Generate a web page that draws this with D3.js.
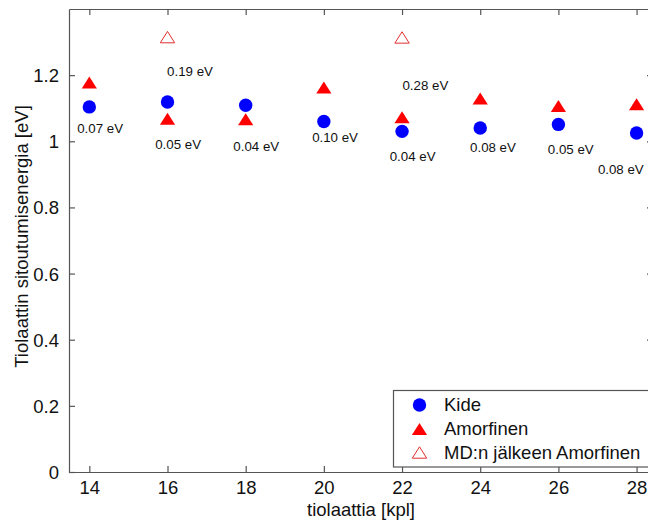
<!DOCTYPE html>
<html>
<head>
<meta charset="utf-8">
<script src="https://cdn.jsdelivr.net/npm/d3@7"></script>
<style>
  body { margin: 0; background: #fff; }
  text { font-family: "Liberation Sans", Arial, sans-serif; fill: #111; }
</style>
</head>
<body>
<div id="chart"></div>
<script>
const tiolaattia = [14, 16, 18, 20, 22, 24, 26, 28];
const kide = [1.104, 1.119, 1.109, 1.060, 1.030, 1.040, 1.051, 1.025];
const amorfinen = [1.178, 1.068, 1.067, 1.163, 1.073, 1.129, 1.107, 1.112];
const mdX = [16, 22];
const mdAmorfinen = [1.315, 1.314];
const labelTexts = ['0.07 eV', '0.19 eV', '0.05 eV', '0.04 eV', '0.10 eV', '0.04 eV', '0.28 eV', '0.08 eV', '0.05 eV', '0.08 eV'];
const labelX = [13.69, 15.99, 15.685, 17.685, 19.70, 21.685, 22.01, 23.74, 25.73, 27.01];
const labelY = [1.039, 1.212, 0.991, 0.986, 1.011, 0.953, 1.169, 0.983, 0.976, 0.915];
const xTicks = [14, 16, 18, 20, 22, 24, 26, 28];
const yTicks = [0, 0.2, 0.4, 0.6, 0.8, 1, 1.2];
const legendNames = ['Kide', 'Amorfinen', "MD:n jälkeen Amorfinen"];

let W = 648, H = 522;
let mLeft = 69, mRight = 653, mTop = 9, mBottom = 472;
let axisColor = '#555';

let svg = d3.select('#chart').append('svg')
    .attr('width', W)
    .attr('height', H);

let x = d3.scaleLinear().domain([13.48, 28.42]).range([mLeft, mRight]);
let y = d3.scaleLinear().domain([0, 1.4]).range([mBottom, mTop]);

// triangle centred on its bounding box, like the matlab marker
function tri(hw, hh) {
    return 'M0,' + (-hh) + 'L' + hw + ',' + hh + 'L' + (-hw) + ',' + hh + 'Z';
}

// axes: bottom/left with labels, top/right just inward ticks
let gx = svg.append('g').attr('transform', 'translate(0,' + mBottom + ')')
    .call(d3.axisBottom(x).tickValues(xTicks).tickSizeInner(-6).tickSizeOuter(0).tickPadding(9).tickFormat(d3.format('d')));
let gy = svg.append('g').attr('transform', 'translate(' + mLeft + ',0)')
    .call(d3.axisLeft(y).tickValues(yTicks).tickSizeInner(-6).tickSizeOuter(0).tickPadding(10).tickFormat(d => d === 0 || d === 1 ? String(d) : d.toFixed(1)));
let gt = svg.append('g').attr('transform', 'translate(0,' + mTop + ')')
    .call(d3.axisTop(x).tickValues(xTicks).tickSizeInner(-6).tickSizeOuter(0).tickFormat(''));
let gr = svg.append('g').attr('transform', 'translate(' + mRight + ',0)')
    .call(d3.axisRight(y).tickValues(yTicks).tickSizeInner(-6).tickSizeOuter(0).tickFormat(''));

[gx, gy, gt, gr].forEach(g => {
    g.select('.domain').attr('stroke', axisColor).attr('stroke-width', 1.2);
    g.selectAll('.tick line').attr('stroke', axisColor).attr('stroke-width', 1.2);
    g.selectAll('.tick text').style('font-size', '18.5px').attr('fill', '#111');
});
gx.selectAll('.tick text').attr('dy', '0.71em');
gy.selectAll('.tick text').attr('dy', '0.35em');

// series
svg.selectAll('.kide')
    .data(tiolaattia)
    .enter().append('circle')
    .attr('class', 'kide')
    .attr('cx', d => x(d))
    .attr('cy', (d, i) => y(kide[i]))
    .attr('r', 6.7)
    .attr('fill', '#0000ff');

svg.selectAll('.amorf')
    .data(tiolaattia)
    .enter().append('path')
    .attr('class', 'amorf')
    .attr('d', tri(7.6, 6))
    .attr('transform', (d, i) => 'translate(' + x(d) + ',' + y(amorfinen[i]) + ')')
    .attr('fill', '#ff0000');

svg.selectAll('.md')
    .data(mdX)
    .enter().append('path')
    .attr('class', 'md')
    .attr('d', tri(7.2, 5.7))
    .attr('transform', (d, i) => 'translate(' + x(d) + ',' + y(mdAmorfinen[i]) + ')')
    .attr('fill', 'none')
    .attr('stroke', '#e03030')
    .attr('stroke-width', 1);

// energy difference annotations
svg.selectAll('.ann')
    .data(labelTexts)
    .enter().append('text')
    .attr('class', 'ann')
    .attr('x', (d, i) => x(labelX[i]))
    .attr('y', (d, i) => y(labelY[i]))
    .attr('dy', '0.35em')
    .style('font-size', '13.3px')
    .text(d => d);

// axis titles
svg.append('text')
    .attr('x', (mLeft + mRight) / 2)
    .attr('y', 510)
    .attr('dy', '0.35em')
    .attr('text-anchor', 'middle')
    .style('font-size', '18.5px')
    .text('tiolaattia [kpl]');

svg.append('text')
    .attr('transform', 'translate(22,' + ((mTop + mBottom) / 2 - 4) + ') rotate(-90)')
    .attr('dy', '0.35em')
    .attr('text-anchor', 'middle')
    .style('font-size', '18.5px')
    .text('Tiolaattin sitoutumisenergia [eV]');

// legend
let legend = svg.append('g');
legend.append('rect')
    .attr('x', 393.5).attr('y', 390.5)
    .attr('width', 270).attr('height', 76.5)
    .attr('fill', '#fff')
    .attr('stroke', axisColor)
    .attr('stroke-width', 1.2);

let rowY = [405, 429, 452.5];
legendNames.forEach((name, i) => {
    let g = legend.append('g').attr('transform', 'translate(419.5,' + rowY[i] + ')');
    if (i === 0) g.append('circle').attr('r', 6.7).attr('fill', '#0000ff');
    if (i === 1) g.append('path').attr('d', tri(7.6, 6)).attr('fill', '#ff0000');
    if (i === 2) g.append('path').attr('d', tri(7.2, 5.7)).attr('fill', 'none').attr('stroke', '#e03030').attr('stroke-width', 1);
    legend.append('text')
        .attr('x', 444)
        .attr('y', rowY[i])
        .attr('dy', '0.35em')
        .style('font-size', '18.5px')
        .text(name);
});
</script>
</body>
</html>
